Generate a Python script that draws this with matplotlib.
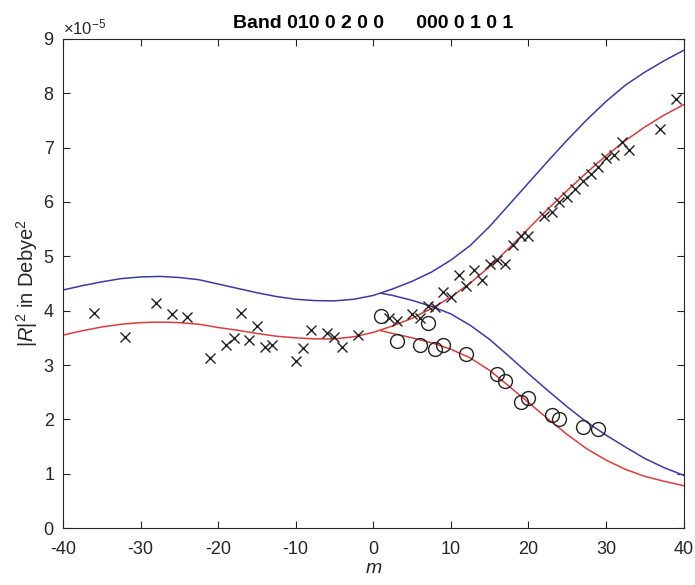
import numpy as np
import matplotlib
matplotlib.use("Agg")
import matplotlib.pyplot as plt
from matplotlib.ticker import ScalarFormatter

# ===== данные (в единицах 1e-5 Debye^2) =====
scale = 1e-5

# измерения: крестики
m_cross = [-36, -32, -28, -26, -24, -21, -19, -18, -17, -16, -15, -14, -13,
           -10, -9, -8, -6, -5, -4, -2, 2, 3, 5, 6, 7, 8, 9, 10, 11, 12, 13,
           14, 15, 16, 17, 18, 19, 20, 22, 23, 24, 25, 26, 27, 28, 29, 30,
           31, 32, 33, 37, 39]
r_cross = [3.95, 3.52, 4.15, 3.93, 3.88, 3.13, 3.37, 3.50, 3.95, 3.46, 3.71,
           3.33, 3.36, 3.08, 3.31, 3.65, 3.59, 3.52, 3.33, 3.55, 3.86, 3.81,
           3.93, 3.86, 4.08, 4.06, 4.34, 4.25, 4.65, 4.46, 4.75, 4.57, 4.86,
           4.94, 4.85, 5.21, 5.38, 5.38, 5.75, 5.82, 6.00, 6.10, 6.24, 6.38,
           6.52, 6.65, 6.81, 6.87, 7.10, 6.95, 7.34, 7.89]

# измерения: кружки
m_circ = [1, 3, 6, 7, 8, 9, 12, 16, 17, 19, 20, 23, 24, 27, 29]
r_circ = [3.91, 3.44, 3.37, 3.78, 3.30, 3.36, 3.21, 2.84, 2.71, 2.31, 2.40,
          2.08, 2.01, 1.86, 1.83]

# расчётные кривые, основная ветвь (-40..40)
m_main = [-40, -37.5, -35, -32.5, -30, -27.5, -25, -22.5, -20, -17.5, -15,
          -12.5, -10, -7.5, -5, -2.5, 0, 2.5, 5, 7.5, 10, 12.5, 15, 17.5,
          20, 22.5, 25, 27.5, 30, 32.5, 35, 37.5, 40]
blue_main = [4.38, 4.46, 4.53, 4.59, 4.62, 4.63, 4.61, 4.57, 4.49, 4.41, 4.33,
             4.26, 4.21, 4.185, 4.18, 4.21, 4.28, 4.40, 4.54, 4.71, 4.93,
             5.20, 5.55, 5.95, 6.35, 6.75, 7.14, 7.51, 7.85, 8.15, 8.39,
             8.60, 8.79]
red_main = [3.55, 3.63, 3.70, 3.75, 3.78, 3.79, 3.78, 3.75, 3.69, 3.64, 3.58,
            3.53, 3.50, 3.48, 3.48, 3.52, 3.60, 3.72, 3.86, 4.04, 4.25, 4.51,
            4.81, 5.15, 5.51, 5.87, 6.21, 6.54, 6.85, 7.13, 7.38, 7.60, 7.79]

# вторая ветвь (m >= 1)
m_branch = [1, 2.5, 5, 7.5, 10, 12.5, 15, 17.5, 20, 22.5, 25, 27.5, 30,
            32.5, 35, 37.5, 40]
blue_branch = [4.32, 4.28, 4.19, 4.08, 3.94, 3.73, 3.47, 3.16, 2.84, 2.53,
               2.23, 1.95, 1.71, 1.49, 1.28, 1.11, 0.97]
red_branch = [3.63, 3.58, 3.50, 3.41, 3.29, 3.13, 2.90, 2.61, 2.31, 2.01,
              1.72, 1.46, 1.25, 1.08, 0.95, 0.86, 0.78]

# ===== оформление =====
plt.rcParams['font.family'] = ['Liberation Sans', 'DejaVu Sans']
plt.rcParams['mathtext.fontset'] = 'custom'
plt.rcParams['mathtext.rm'] = 'Liberation Sans'
plt.rcParams['mathtext.it'] = 'Liberation Sans:italic'
plt.rcParams['axes.unicode_minus'] = False

txt = '#262626'
blue = '#3a3aa8'
red = '#e03a3a'

fig = plt.figure(figsize=(6.95, 5.85), dpi=100)
ax = fig.add_axes([0.0906, 0.0974, 0.893, 0.836])

sc = lambda v: np.array(v) * scale

ax.plot(m_main, sc(blue_main), color=blue, lw=1.1)
ax.plot(m_main, sc(red_main), color=red, lw=1.1)
ax.plot(m_branch, sc(blue_branch), color=blue, lw=1.1)
ax.plot(m_branch, sc(red_branch), color=red, lw=1.1)

ax.plot(m_cross, sc(r_cross), 'x', color='#222222', ms=7, mew=1.0)
ax.plot(m_circ, sc(r_circ), 'o', mfc='none', mec='#222222', ms=10, mew=1.0)

ax.set_xlim(-40, 40)
ax.set_ylim(0, 9e-5)
ax.set_xticks(np.arange(-40, 41, 10))
ax.set_yticks(np.arange(0, 9.1, 1) * scale)

fmt = ScalarFormatter(useMathText=True)
fmt.set_powerlimits((0, 0))
ax.yaxis.set_major_formatter(fmt)
ax.yaxis.get_offset_text().set_fontsize(12)
ax.yaxis.get_offset_text().set_color('#666666')

ax.tick_params(direction='in', top=True, right=True, length=5, width=0.8,
               labelsize=13, colors=txt)
ax.tick_params(axis='x', pad=9)
ax.tick_params(axis='y', pad=6)
for s in ax.spines.values():
    s.set_color(txt)
    s.set_linewidth(0.8)

ax.set_title('Band 010 0 2 0 0      000 0 1 0 1', fontsize=14,
             fontweight='bold', color='black', pad=8)
ax.set_xlabel('$m$', fontsize=14, color=txt, labelpad=2)
ax.set_ylabel('$|R|^2$ in Debye$^2$', fontsize=14.5, color=txt, labelpad=2)

fig.savefig('out.png', dpi=100)
